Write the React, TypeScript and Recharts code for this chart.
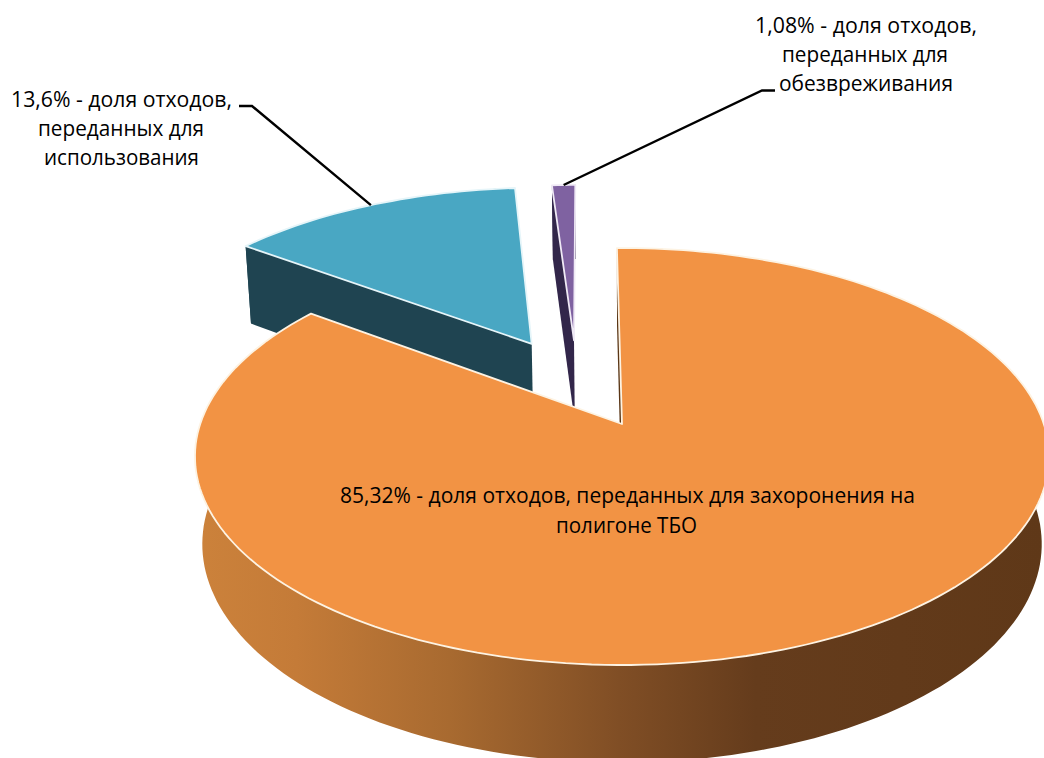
import { Pie, PieChart } from "recharts";

const CATEGORIES = ["использование", "обезвреживание", "захоронение"];
const SHARES = [13.6, 1.08, 85.32];
const LABEL_LINES = [
  ["13,6% - доля отходов,", "переданных для", "использования"],
  ["1,08% - доля отходов,", "переданных для", "обезвреживания"],
  ["85,32% - доля отходов, переданных для захоронения на", "полигоне ТБО"],
];

const chartData = CATEGORIES.map((name, i) => ({ name, value: SHARES[i], lines: LABEL_LINES[i] }));

// the pie is drawn on a tilted plane, so every angle goes through this projection
const ORIGIN_X = 622;
const ORIGIN_Y = 424;
const SCALE_X = 421.8;
const SCALE_Y = 203.4;
const PERSPECTIVE = 0.156;
const BOTTOM_W = 1.017;
const DEPTH = 88;

const project = (u: number, v: number, bottom = false) => {
  const w = (bottom ? BOTTOM_W : 1) + PERSPECTIVE * v;
  return {
    x: ORIGIN_X + (SCALE_X * u) / w,
    y: ORIGIN_Y - (SCALE_Y * v - (bottom ? DEPTH : 0)) / w,
  };
};

const SLICE_STYLES = [
  { top: "#49a7c3", wall: "#1f4451", edge: "#1f4451", rim: "#e6f5f9", dx: -0.228, dy: 0.42 },
  { top: "#7f62a1", wall: "#32264a", edge: "#32264a", rim: "#efe9f5", dx: -0.1216, dy: 0.44 },
  { top: "#f29344", wall: "url(#orangeWall)", edge: "#5a3616", rim: "#fdf3e3", dx: 0, dy: 0 },
];

const LABEL_STYLES = [
  { baselines: [107, 136, 165], spans: [[11, 232], [38, 204], [44, 199]], elbow: [239, 252, 106] },
  { baselines: [33, 62, 91], spans: [[755, 977], [782, 948], [779, 953]], elbow: [775, 762, 90.5] },
  { baselines: [503, 533], spans: [[340, 915], [556, 697]], elbow: null },
];

const WALL_STOPS = [
  ["0", "#cc823b"],
  ["0.12", "#c47b38"],
  ["0.3", "#a86a30"],
  ["0.5", "#804e25"],
  ["0.66", "#653c1c"],
  ["1", "#5f3818"],
];

const FONT = "'Open Sans', 'Noto Sans', sans-serif";

const pt = (p: { x: number; y: number }) => `${p.x.toFixed(1)} ${p.y.toFixed(1)}`;

function SliceShape(props: any) {
  const { startAngle, endAngle, index } = props;
  const style = SLICE_STYLES[index];
  // recharts angles run counter clockwise from east, here they are clockwise from north
  const from = 90 - startAngle;
  const to = 90 - endAngle;
  const steps = Math.max(4, Math.ceil((to - from) / 1.5));
  const outer = (a: number, bottom = false) => {
    const r = (a * Math.PI) / 180;
    return project(style.dx + Math.sin(r), style.dy + Math.cos(r), bottom);
  };
  const angles = Array.from({ length: steps + 1 }, (_, i) => from + ((to - from) * i) / steps);

  const topPath =
    `M${pt(project(style.dx, style.dy))} ` +
    angles.map((a) => `L${pt(outer(a))}`).join(" ") +
    " Z";
  let wallPath = "";
  for (let i = 0; i < steps; i++) {
    const a = angles[i];
    const b = angles[i + 1];
    wallPath += `M${pt(outer(a))} L${pt(outer(b))} L${pt(outer(b, true))} L${pt(outer(a, true))} Z `;
  }
  const edgePath =
    `M${pt(project(style.dx, style.dy))} L${pt(outer(from))} ` +
    `L${pt(outer(from, true))} L${pt(project(style.dx, style.dy, true))} Z`;

  return (
    <g>
      <defs>
        <linearGradient id="orangeWall" gradientUnits="userSpaceOnUse" x1={195} y1={0} x2={1044} y2={0}>
          {WALL_STOPS.map(([offset, color]) => (
            <stop key={offset} offset={offset} stopColor={color} />
          ))}
        </linearGradient>
      </defs>
      <path d={wallPath} fill={style.wall} stroke="none" />
      <path d={edgePath} fill={style.edge} stroke="none" />
      <path d={topPath} fill={style.top} stroke={style.rim} strokeWidth={1.8} strokeLinejoin="round" />
    </g>
  );
}

function SliceLabel(props: any) {
  const { index, midAngle, payload } = props;
  const style = SLICE_STYLES[index];
  const layout = LABEL_STYLES[index];
  const lines: string[] = payload?.lines ?? LABEL_LINES[index];
  const r = ((90 - midAngle) * Math.PI) / 180;
  const anchor = project(style.dx + Math.sin(r), style.dy + Math.cos(r));

  return (
    <g>
      {layout.elbow && (
        <polyline
          points={`${layout.elbow[0]},${layout.elbow[2]} ${layout.elbow[1]},${layout.elbow[2]} ${anchor.x},${anchor.y}`}
          fill="none"
          stroke="#000"
          strokeWidth={2.4}
        />
      )}
      {lines.map((line, i) => (
        <text
          key={line}
          x={(layout.spans[i][0] + layout.spans[i][1]) / 2}
          y={layout.baselines[i]}
          textAnchor="middle"
          textLength={layout.spans[i][1] - layout.spans[i][0]}
          lengthAdjust="spacingAndGlyphs"
          fontFamily={FONT}
          fontSize={21}
          fill="#000"
        >
          {line}
        </text>
      ))}
    </g>
  );
}

export default function App() {
  return (
    <div style={{ position: "absolute", left: 0, top: 0, width: 1044, height: 758, overflow: "hidden", background: "#fff" }}>
      <PieChart width={1044} height={758} margin={{ top: 0, right: 0, bottom: 0, left: 0 }}>
        <Pie
          data={chartData}
          dataKey="value"
          nameKey="name"
          cx={ORIGIN_X}
          cy={ORIGIN_Y}
          outerRadius={300}
          startAngle={-216.35}
          endAngle={-576.35}
          stroke="none"
          shape={SliceShape}
          label={SliceLabel}
          labelLine={false}
          isAnimationActive={false}
        />
      </PieChart>
    </div>
  );
}
